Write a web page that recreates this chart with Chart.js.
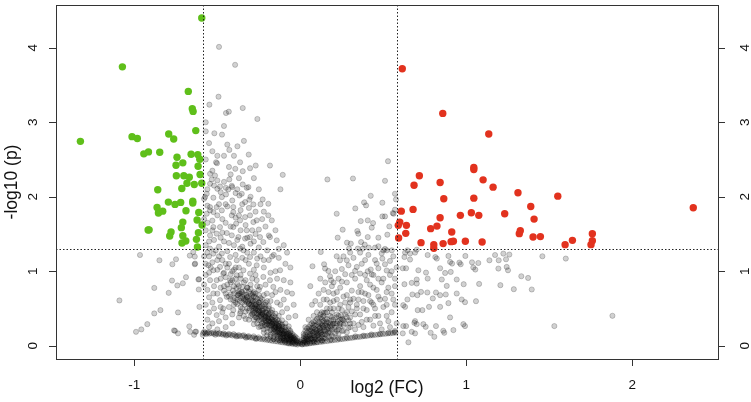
<!DOCTYPE html>
<html>
<head>
<meta charset="utf-8">
<script src="https://cdn.jsdelivr.net/npm/chart.js@4.4.1/dist/chart.umd.min.js"></script>
<style>
  html, body { margin: 0; padding: 0; background: #fff; }
  canvas { display: block; }
</style>
</head>
<body>
<canvas id="volcano" width="751" height="402"></canvas>
<script>
// axis ticks and cut-offs
const xTicks = [-1, 0, 1, 2];
const yTicks = [0, 1, 2, 3, 4];
const fcCut = 0.585;   // log2(1.5)
const pCut = 1.301;    // -log10(0.05)

// down-regulated (green)
const downPoints = [
  [-0.594, 4.40], [-1.072, 3.744], [-1.325, 2.744], [-0.675, 3.414], [-0.651, 3.182], [-0.646, 3.146],
  [-0.630, 2.888], [-1.014, 2.807], [-0.982, 2.781], [-0.793, 2.843], [-0.763, 2.776], [-0.943, 2.576],
  [-0.915, 2.602], [-0.847, 2.597], [-0.743, 2.530], [-0.658, 2.570], [-0.618, 2.566], [-0.606, 2.503],
  [-0.708, 2.455], [-0.749, 2.423], [-0.616, 2.410], [-0.747, 2.281], [-0.702, 2.281], [-0.669, 2.262],
  [-0.604, 2.298], [-0.683, 2.182], [-0.639, 2.165], [-0.594, 2.182], [-0.714, 2.111], [-0.859, 2.094],
  [-0.795, 1.928], [-0.755, 1.897], [-0.721, 1.924], [-0.648, 1.941], [-0.648, 1.915], [-0.863, 1.857],
  [-0.855, 1.781], [-0.829, 1.807], [-0.689, 1.812], [-0.612, 1.790], [-0.592, 1.620], [-0.622, 1.687],
  [-0.708, 1.660], [-0.717, 1.585], [-0.917, 1.553], [-0.911, 1.556], [-0.779, 1.526], [-0.787, 1.473],
  [-0.708, 1.478], [-0.614, 1.518], [-0.690, 1.406], [-0.713, 1.379], [-0.626, 1.428], [-0.620, 1.325]
];

// up-regulated (red)
const upPoints = [
  [0.614, 3.718], [0.858, 3.119], [1.135, 2.843], [1.045, 2.392], [1.045, 2.365], [0.717, 2.281],
  [0.685, 2.155], [0.842, 2.191], [1.101, 2.227], [1.161, 2.129], [0.864, 1.973], [1.045, 1.981],
  [1.311, 2.053], [1.551, 2.008], [2.367, 1.853], [1.388, 1.870], [1.408, 1.700], [1.231, 1.772],
  [1.075, 1.750], [1.030, 1.786], [0.964, 1.750], [0.842, 1.719], [0.608, 1.807], [0.679, 1.830],
  [0.599, 1.660], [0.639, 1.616], [0.590, 1.616], [0.635, 1.509], [0.592, 1.446], [0.785, 1.572],
  [0.823, 1.606], [0.912, 1.526], [0.727, 1.384], [0.804, 1.357], [0.804, 1.308], [0.860, 1.371],
  [0.908, 1.397], [0.922, 1.402], [0.994, 1.402], [1.095, 1.392], [1.319, 1.505], [1.325, 1.545],
  [1.402, 1.459], [1.446, 1.465], [1.595, 1.357], [1.639, 1.415], [1.759, 1.505], [1.759, 1.411],
  [1.751, 1.357]
];

// not significant (grey), read region by region
const greyFloor = [
  [-0.585, 0.172], [-0.572, 0.168], [-0.561, 0.175], [-0.548, 0.163], [-0.536, 0.168], [-0.521, 0.160],
  [-0.507, 0.166], [-0.494, 0.155], [-0.478, 0.158], [-0.466, 0.149], [-0.452, 0.153], [-0.437, 0.144],
  [-0.421, 0.147], [-0.409, 0.137], [-0.392, 0.140], [-0.378, 0.131], [-0.363, 0.128], [-0.349, 0.133],
  [-0.333, 0.121], [-0.318, 0.118], [-0.304, 0.112], [-0.289, 0.108], [-0.273, 0.103], [-0.261, 0.098],
  [-0.244, 0.093], [-0.229, 0.087], [-0.214, 0.083], [-0.198, 0.076], [-0.183, 0.072], [-0.169, 0.066],
  [-0.152, 0.061], [-0.138, 0.057], [-0.122, 0.050], [-0.108, 0.046], [-0.093, 0.040], [-0.079, 0.036],
  [-0.062, 0.031], [-0.048, 0.025], [-0.031, 0.020], [-0.017, 0.016],
  [0.012, 0.018], [0.027, 0.022], [0.041, 0.027], [0.056, 0.031], [0.072, 0.037], [0.086, 0.040],
  [0.101, 0.046], [0.118, 0.050], [0.133, 0.055], [0.147, 0.060], [0.163, 0.063], [0.178, 0.069],
  [0.192, 0.072], [0.208, 0.078], [0.224, 0.081], [0.239, 0.087], [0.253, 0.090], [0.268, 0.095],
  [0.284, 0.099], [0.299, 0.104], [0.314, 0.108], [0.328, 0.113], [0.344, 0.117], [0.359, 0.120],
  [0.374, 0.126], [0.390, 0.129], [0.405, 0.134], [0.421, 0.138], [0.436, 0.141], [0.451, 0.147],
  [0.467, 0.150], [0.482, 0.154], [0.497, 0.158], [0.513, 0.161], [0.528, 0.165], [0.543, 0.168],
  [0.558, 0.172], [0.574, 0.176]
];

const greyFloor2 = [
  [-0.579, 0.188], [-0.553, 0.181], [-0.524, 0.179], [-0.488, 0.170], [-0.463, 0.166], [-0.431, 0.158],
  [-0.402, 0.155], [-0.371, 0.144], [-0.341, 0.141], [-0.312, 0.130], [-0.281, 0.126], [-0.252, 0.113],
  [-0.221, 0.106], [-0.193, 0.093], [-0.161, 0.087], [-0.128, 0.073], [-0.097, 0.066], [-0.071, 0.050],
  [-0.566, 0.156], [-0.512, 0.148], [-0.447, 0.137], [-0.386, 0.124], [-0.327, 0.108], [-0.268, 0.092],
  [0.083, 0.057], [0.131, 0.072], [0.184, 0.083], [0.231, 0.100], [0.279, 0.110], [0.332, 0.127],
  [0.381, 0.136], [0.428, 0.152], [0.479, 0.160], [0.532, 0.177], [0.568, 0.183]
];

const greyLeftCore = [
  [-0.02, 0.05], [-0.03, 0.08], [-0.04, 0.04], [-0.05, 0.10], [-0.05, 0.06], [-0.06, 0.12], [-0.07, 0.08],
  [-0.07, 0.15], [-0.08, 0.11], [-0.09, 0.17], [-0.09, 0.07], [-0.10, 0.13], [-0.10, 0.20], [-0.11, 0.16],
  [-0.12, 0.22], [-0.12, 0.10], [-0.13, 0.18], [-0.13, 0.26], [-0.14, 0.14], [-0.14, 0.23], [-0.15, 0.30],
  [-0.15, 0.20], [-0.16, 0.26], [-0.16, 0.34], [-0.17, 0.22], [-0.17, 0.30], [-0.18, 0.37], [-0.18, 0.27],
  [-0.19, 0.33], [-0.19, 0.42], [-0.20, 0.29], [-0.20, 0.38], [-0.21, 0.45], [-0.21, 0.34], [-0.22, 0.40],
  [-0.22, 0.50], [-0.23, 0.36], [-0.23, 0.44], [-0.24, 0.52], [-0.24, 0.41], [-0.25, 0.47], [-0.25, 0.58],
  [-0.26, 0.43], [-0.26, 0.53], [-0.27, 0.60], [-0.27, 0.49], [-0.28, 0.56], [-0.28, 0.66], [-0.29, 0.52],
  [-0.30, 0.61], [-0.30, 0.70], [-0.31, 0.57], [-0.32, 0.65], [-0.33, 0.74], [-0.33, 0.60], [-0.34, 0.69],
  [-0.35, 0.79], [-0.36, 0.64], [-0.37, 0.73], [-0.38, 0.83], [-0.40, 0.70], [-0.41, 0.88], [-0.43, 0.77],
  [-0.45, 0.92], [-0.03, 0.03], [-0.04, 0.07], [-0.06, 0.05], [-0.08, 0.09], [-0.10, 0.10], [-0.11, 0.12],
  [-0.13, 0.15], [-0.15, 0.16], [-0.16, 0.19], [-0.18, 0.21], [-0.20, 0.24], [-0.21, 0.27], [-0.23, 0.30],
  [-0.25, 0.34], [-0.27, 0.38], [-0.29, 0.43], [-0.31, 0.47], [-0.06, 0.20], [-0.09, 0.25], [-0.11, 0.28],
  [-0.13, 0.33], [-0.15, 0.38], [-0.17, 0.44], [-0.19, 0.50], [-0.21, 0.55], [-0.23, 0.62], [-0.25, 0.68],
  [-0.04, 0.14], [-0.02, 0.10], [-0.01, 0.06], [0.00, 0.03]
];

const greyLeftBlack = [
  [-0.015, 0.04], [-0.025, 0.06], [-0.035, 0.09], [-0.045, 0.05], [-0.055, 0.11], [-0.065, 0.07],
  [-0.065, 0.14], [-0.075, 0.12], [-0.085, 0.15], [-0.085, 0.08], [-0.095, 0.19], [-0.105, 0.15],
  [-0.105, 0.11], [-0.115, 0.21], [-0.125, 0.17], [-0.125, 0.26], [-0.135, 0.20], [-0.135, 0.13],
  [-0.145, 0.25], [-0.145, 0.31], [-0.155, 0.22], [-0.155, 0.27], [-0.165, 0.32], [-0.165, 0.17],
  [-0.175, 0.27], [-0.175, 0.36], [-0.185, 0.31], [-0.185, 0.24], [-0.195, 0.36], [-0.195, 0.41],
  [-0.205, 0.31], [-0.205, 0.44], [-0.215, 0.37], [-0.215, 0.28], [-0.225, 0.43], [-0.225, 0.47],
  [-0.235, 0.39], [-0.235, 0.33], [-0.245, 0.46], [-0.245, 0.55], [-0.255, 0.42], [-0.255, 0.50],
  [-0.265, 0.56], [-0.265, 0.38], [-0.275, 0.52], [-0.275, 0.45], [-0.285, 0.60], [-0.285, 0.47],
  [-0.295, 0.55], [-0.295, 0.63], [-0.305, 0.50], [-0.315, 0.60], [-0.325, 0.68], [-0.335, 0.55],
  [-0.345, 0.64], [-0.355, 0.72], [-0.365, 0.60], [-0.375, 0.68], [-0.385, 0.77], [-0.395, 0.64],
  [-0.405, 0.74], [-0.420, 0.69], [-0.440, 0.82], [-0.460, 0.74],
  [-0.02, 0.07], [-0.04, 0.11], [-0.05, 0.08], [-0.07, 0.10], [-0.08, 0.13], [-0.10, 0.16], [-0.12, 0.19],
  [-0.13, 0.23], [-0.15, 0.25], [-0.17, 0.29], [-0.19, 0.34], [-0.21, 0.39], [-0.23, 0.42], [-0.25, 0.45],
  [-0.27, 0.50], [-0.29, 0.53], [-0.31, 0.56], [-0.33, 0.62], [-0.35, 0.66], [-0.37, 0.70]
];

const greyLeftBlob = [
  [-0.06, 0.18], [-0.07, 0.26], [-0.09, 0.30], [-0.10, 0.08], [-0.11, 0.34], [-0.12, 0.12], [-0.13, 0.40],
  [-0.14, 0.18], [-0.15, 0.43], [-0.16, 0.09], [-0.17, 0.48], [-0.18, 0.12], [-0.19, 0.53], [-0.20, 0.14],
  [-0.21, 0.58], [-0.22, 0.18], [-0.23, 0.26], [-0.24, 0.64], [-0.25, 0.25], [-0.26, 0.37], [-0.27, 0.70],
  [-0.28, 0.29], [-0.29, 0.42], [-0.30, 0.76], [-0.31, 0.35], [-0.32, 0.50], [-0.34, 0.40], [-0.35, 0.58],
  [-0.36, 0.46], [-0.38, 0.62], [-0.40, 0.55], [-0.43, 0.66], [-0.16, 0.23], [-0.19, 0.28], [-0.22, 0.32],
  [-0.25, 0.39], [-0.28, 0.44], [-0.13, 0.30], [-0.11, 0.26], [-0.09, 0.21], [-0.07, 0.17], [-0.05, 0.13]
];

const greyLeftDense = [
  [-0.03, 0.12], [-0.05, 0.16], [-0.06, 0.09], [-0.07, 0.22], [-0.08, 0.16], [-0.09, 0.12], [-0.10, 0.25],
  [-0.11, 0.20], [-0.12, 0.15], [-0.12, 0.30], [-0.13, 0.22], [-0.14, 0.28], [-0.14, 0.35], [-0.15, 0.24],
  [-0.16, 0.30], [-0.16, 0.40], [-0.17, 0.35], [-0.18, 0.32], [-0.18, 0.45], [-0.19, 0.38], [-0.20, 0.33],
  [-0.20, 0.48], [-0.21, 0.40], [-0.22, 0.36], [-0.22, 0.55], [-0.23, 0.48], [-0.24, 0.44], [-0.24, 0.60],
  [-0.25, 0.52], [-0.26, 0.48], [-0.26, 0.63], [-0.27, 0.55], [-0.28, 0.50], [-0.28, 0.72], [-0.29, 0.60],
  [-0.30, 0.55], [-0.31, 0.66], [-0.32, 0.58], [-0.32, 0.78], [-0.34, 0.62], [-0.34, 0.85], [-0.35, 0.72],
  [-0.36, 0.95], [-0.37, 0.80], [-0.38, 0.68], [-0.39, 0.90], [-0.40, 1.02], [-0.42, 0.85], [-0.42, 0.96],
  [-0.44, 1.05], [-0.46, 0.98], [-0.47, 1.15], [-0.48, 0.90], [-0.50, 1.02], [-0.51, 1.28], [-0.53, 1.12],
  [-0.55, 0.98], [-0.56, 1.25], [-0.57, 1.10],
  [-0.04, 0.10], [-0.06, 0.14], [-0.08, 0.19], [-0.10, 0.17], [-0.11, 0.23], [-0.13, 0.27], [-0.15, 0.33],
  [-0.17, 0.38], [-0.19, 0.43], [-0.21, 0.50], [-0.23, 0.53], [-0.25, 0.58], [-0.27, 0.65], [-0.29, 0.68],
  [-0.31, 0.73], [-0.07, 0.03], [-0.09, 0.05], [-0.12, 0.07], [-0.14, 0.09], [-0.05, 0.04], [-0.11, 0.08],
  [-0.16, 0.12], [-0.18, 0.15], [-0.20, 0.18], [-0.22, 0.22], [-0.24, 0.26], [-0.26, 0.30], [-0.28, 0.35],
  [-0.30, 0.40], [-0.33, 0.46], [-0.36, 0.52], [-0.39, 0.58], [-0.42, 0.62], [-0.45, 0.70], [-0.48, 0.78],
  [-0.52, 0.80], [-0.55, 0.65], [-0.58, 0.82], [-0.52, 0.50], [-0.56, 0.35], [-0.47, 0.45], [-0.41, 0.42],
  [-0.37, 0.38], [-0.33, 0.36], [-0.45, 0.25], [-0.50, 0.22], [-0.41, 0.30], [-0.55, 0.25],
  [-0.57, 1.35], [-0.52, 1.42], [-0.47, 1.52], [-0.43, 1.38], [-0.38, 1.42], [-0.35, 1.33], [-0.32, 1.25],
  [-0.28, 1.40], [-0.25, 1.32], [-0.20, 1.28], [-0.19, 1.48], [-0.23, 1.70], [-0.29, 1.55], [-0.33, 1.62],
  [-0.39, 1.72], [-0.45, 1.65], [-0.50, 1.75], [-0.56, 1.88], [-0.58, 1.70], [-0.53, 1.68], [-0.45, 1.90],
  [-0.36, 1.82], [-0.31, 1.85], [-0.24, 1.90], [-0.17, 1.20], [-0.13, 1.30], [-0.08, 1.25], [-0.06, 1.05],
  [-0.22, 1.15], [-0.35, 1.18], [-0.43, 1.10], [-0.49, 1.20], [-0.54, 1.05], [-0.58, 1.20], [-0.39, 1.05]
];

const greyLeftMid = [
  [-0.524, 0.701], [-0.484, 0.612], [-0.443, 0.656], [-0.404, 0.612], [-0.363, 0.701], [-0.323, 0.656],
  [-0.404, 0.478], [-0.363, 0.434], [-0.464, 0.500], [-0.504, 0.411], [-0.524, 1.013], [-0.484, 1.058],
  [-0.554, 1.080], [-0.544, 0.880], [-0.504, 0.880], [-0.464, 0.969], [-0.423, 0.880], [-0.383, 0.946],
  [-0.343, 1.013], [-0.303, 0.969], [-0.263, 0.880], [-0.223, 0.924], [-0.183, 0.880], [-0.243, 0.790],
  [-0.283, 0.701], [-0.202, 0.701], [-0.163, 0.790], [-0.122, 1.013], [-0.263, 1.080], [-0.303, 1.191],
  [-0.383, 1.147], [-0.423, 1.191], [-0.473, 1.237], [-0.524, 1.237], [-0.363, 1.304], [-0.343, 1.281],
  [-0.56, 0.75], [-0.57, 0.55], [-0.55, 0.45], [-0.53, 0.30], [-0.49, 0.33], [-0.45, 0.38], [-0.43, 0.52],
  [-0.38, 0.56], [-0.35, 0.50], [-0.30, 0.82], [-0.27, 0.95], [-0.22, 1.05], [-0.19, 1.15], [-0.14, 0.90],
  [-0.12, 0.75], [-0.10, 0.62], [-0.08, 0.50], [-0.07, 0.38], [-0.06, 0.85], [-0.09, 1.10], [-0.16, 1.22],
  [-0.20, 0.60], [-0.17, 0.68], [-0.14, 0.58], [-0.11, 0.45], [-0.24, 1.20], [-0.28, 1.02], [-0.33, 0.88],
  [-0.37, 1.05], [-0.41, 1.00], [-0.45, 1.10], [-0.50, 1.15], [-0.55, 1.20], [-0.57, 0.95], [-0.46, 0.80],
  [-0.50, 0.70], [-0.40, 0.80], [-0.33, 1.15], [-0.28, 1.25], [-0.25, 0.75], [-0.21, 0.82], [-0.15, 1.00],
  [-0.05, 0.70], [-0.04, 0.55], [-0.03, 0.40], [-0.53, 0.58], [-0.48, 0.52], [-0.44, 1.27], [-0.39, 1.22],
  [-0.31, 1.10], [-0.26, 1.17], [-0.18, 0.98], [-0.13, 1.18], [-0.10, 0.88], [-0.08, 0.72], [-0.12, 0.55],
  [-0.15, 0.72], [-0.18, 0.60], [-0.22, 0.68], [-0.26, 0.80], [-0.29, 0.90], [-0.32, 0.78], [-0.36, 0.90]
];

const greyLeftUpper = [
  [-0.490, 4.012], [-0.393, 3.771], [-0.493, 3.343], [-0.548, 3.236], [-0.448, 3.124], [-0.431, 3.142],
  [-0.347, 3.191], [-0.259, 3.044], [-0.570, 2.878], [-0.518, 2.852], [-0.472, 2.834], [-0.379, 2.677],
  [-0.428, 2.629], [-0.530, 2.611], [-0.311, 2.566], [-0.508, 2.463], [-0.502, 2.450], [-0.363, 2.463],
  [-0.269, 2.419], [-0.303, 2.383], [-0.347, 2.343], [-0.392, 2.375], [-0.183, 2.419], [-0.106, 2.294],
  [-0.544, 2.308], [-0.534, 2.232], [-0.544, 2.174], [-0.514, 2.285], [-0.500, 2.218], [-0.484, 2.138],
  [-0.428, 2.232], [-0.413, 2.147], [-0.411, 2.129], [-0.434, 2.098], [-0.449, 2.120], [-0.347, 2.165],
  [-0.323, 2.120], [-0.313, 2.129], [-0.353, 2.040], [-0.367, 2.017], [-0.524, 1.987], [-0.473, 1.995],
  [-0.448, 2.031], [-0.480, 2.062], [-0.500, 2.107], [-0.564, 2.040], [-0.574, 1.995], [-0.580, 1.973],
  [-0.227, 1.964], [-0.193, 1.906], [-0.333, 1.928], [-0.307, 1.960], [-0.283, 1.897], [-0.544, 1.861],
  [-0.544, 1.817], [-0.564, 1.772], [-0.524, 1.794], [-0.504, 1.861], [-0.404, 1.861], [-0.404, 1.794],
  [-0.413, 1.750], [-0.440, 1.870], [-0.473, 1.817], [-0.363, 1.683], [-0.387, 1.639], [-0.404, 1.593],
  [-0.333, 1.727], [-0.303, 1.750], [-0.283, 1.660], [-0.263, 1.683], [-0.193, 1.750], [-0.172, 1.683],
  [-0.183, 1.459], [-0.142, 1.415], [-0.243, 1.459], [-0.223, 1.392], [-0.323, 1.549], [-0.333, 1.438],
  [-0.303, 1.459], [-0.373, 1.459], [-0.413, 1.482], [-0.443, 1.513], [-0.524, 1.593], [-0.544, 1.482],
  [-0.504, 1.505], [-0.484, 1.593], [-0.544, 1.304], [-0.12, 2.10], [-0.15, 1.55], [-0.10, 1.35],
  [-0.46, 1.40], [-0.56, 1.65], [-0.55, 1.40], [-0.47, 1.70], [-0.36, 1.55], [-0.25, 1.56], [-0.21, 1.60],
  [-0.40, 1.35], [-0.49, 1.33], [-0.57, 1.55], [-0.43, 2.40], [-0.37, 2.25], [-0.46, 2.55], [-0.55, 2.72],
  [-0.41, 1.95], [-0.27, 1.80], [-0.39, 2.05], [-0.30, 1.37],
  [-0.56, 2.10], [-0.52, 2.15], [-0.49, 1.90], [-0.46, 2.20], [-0.42, 2.30], [-0.38, 2.10], [-0.35, 1.90],
  [-0.30, 2.00], [-0.28, 2.25], [-0.25, 2.10], [-0.53, 2.35], [-0.57, 2.50], [-0.50, 2.55], [-0.44, 2.70],
  [-0.40, 2.55], [-0.34, 2.75], [-0.57, 3.00], [-0.46, 2.95], [-0.53, 1.55], [-0.48, 1.45], [-0.42, 1.60],
  [-0.37, 1.75], [-0.32, 1.45], [-0.27, 1.50], [-0.22, 1.80]
];

const greyRightCore = [
  [0.02, 0.04], [0.03, 0.08], [0.04, 0.03], [0.05, 0.12], [0.05, 0.06], [0.06, 0.16], [0.07, 0.10],
  [0.07, 0.20], [0.08, 0.05], [0.08, 0.14], [0.09, 0.22], [0.10, 0.09], [0.10, 0.17], [0.11, 0.26],
  [0.11, 0.12], [0.12, 0.20], [0.12, 0.30], [0.13, 0.15], [0.13, 0.24], [0.14, 0.33], [0.14, 0.10],
  [0.15, 0.19], [0.15, 0.28], [0.16, 0.36], [0.16, 0.14], [0.17, 0.23], [0.17, 0.31], [0.18, 0.40],
  [0.18, 0.18], [0.19, 0.27], [0.20, 0.35], [0.20, 0.12], [0.21, 0.22], [0.22, 0.30], [0.22, 0.42],
  [0.23, 0.16], [0.24, 0.26], [0.25, 0.36], [0.26, 0.20], [0.27, 0.30], [0.28, 0.45], [0.29, 0.24],
  [0.30, 0.38], [0.01, 0.02], [0.02, 0.07], [0.03, 0.12], [0.04, 0.09], [0.06, 0.04], [0.06, 0.13],
  [0.09, 0.12], [0.10, 0.05], [0.11, 0.19], [0.13, 0.07], [0.14, 0.16], [0.16, 0.22], [0.19, 0.14],
  [0.00, 0.05], [-0.01, 0.03], [0.04, 0.18], [0.08, 0.28], [0.12, 0.38], [0.15, 0.44], [0.20, 0.50],
  [0.24, 0.55]
];

const greyRightBlack = [
  [0.015, 0.04], [0.025, 0.06], [0.035, 0.10], [0.045, 0.07], [0.055, 0.14], [0.065, 0.09], [0.075, 0.17],
  [0.085, 0.11], [0.095, 0.20], [0.105, 0.14], [0.115, 0.23], [0.125, 0.18], [0.135, 0.27], [0.145, 0.21],
  [0.155, 0.30], [0.165, 0.25], [0.175, 0.20], [0.185, 0.34], [0.195, 0.29], [0.205, 0.24], [0.215, 0.38],
  [0.225, 0.33], [0.235, 0.28], [0.245, 0.41], [0.255, 0.35], [0.07, 0.24], [0.09, 0.27], [0.11, 0.31],
  [0.13, 0.36], [0.05, 0.20], [0.03, 0.15], [0.02, 0.13], [0.04, 0.23], [0.06, 0.28], [0.08, 0.32],
  [0.10, 0.36], [0.12, 0.42], [0.14, 0.40], [0.16, 0.45], [0.18, 0.50]
];

const greyRightBlob = [
  [0.01, 0.08], [0.02, 0.16], [0.03, 0.20], [0.04, 0.05], [0.05, 0.25], [0.06, 0.10], [0.07, 0.30],
  [0.08, 0.19], [0.09, 0.33], [0.10, 0.21], [0.11, 0.38], [0.12, 0.10], [0.13, 0.28], [0.14, 0.44],
  [0.15, 0.15], [0.16, 0.32], [0.17, 0.12], [0.18, 0.26], [0.20, 0.30], [0.22, 0.20], [0.24, 0.30],
  [0.26, 0.34], [0.28, 0.38], [0.30, 0.30], [0.06, 0.22], [0.08, 0.08], [0.10, 0.13], [0.12, 0.16],
  [0.14, 0.25]
];

const greyRightDense = [
  [0.02, 0.10], [0.03, 0.05], [0.04, 0.13], [0.05, 0.09], [0.06, 0.20], [0.07, 0.06], [0.07, 0.14],
  [0.08, 0.24], [0.09, 0.09], [0.09, 0.18], [0.10, 0.28], [0.11, 0.08], [0.11, 0.16], [0.12, 0.24],
  [0.13, 0.12], [0.13, 0.32], [0.14, 0.20], [0.15, 0.10], [0.15, 0.36], [0.16, 0.27], [0.17, 0.17],
  [0.18, 0.30], [0.19, 0.22], [0.19, 0.38], [0.21, 0.16], [0.21, 0.30], [0.23, 0.22], [0.24, 0.35],
  [0.26, 0.28], [0.27, 0.42], [0.29, 0.34], [0.31, 0.46], [0.32, 0.30], [0.34, 0.50], [0.36, 0.42],
  [0.38, 0.60], [0.40, 0.48], [0.41, 0.68], [0.43, 0.58], [0.46, 0.75], [0.48, 0.62], [0.50, 0.90],
  [0.53, 0.78], [0.55, 1.00], [0.52, 0.55], [0.45, 0.50], [0.40, 0.35], [0.35, 0.28], [0.30, 0.25],
  [0.25, 0.20], [0.28, 0.18], [0.33, 0.22], [0.38, 0.25], [0.44, 0.27], [0.49, 0.22], [0.54, 0.25],
  [0.57, 0.20], [0.52, 0.40], [0.47, 0.40], [0.27, 0.58], [0.23, 0.50], [0.32, 0.63], [0.37, 0.72],
  [0.42, 0.82], [0.45, 1.15], [0.36, 1.25], [0.29, 1.08], [0.39, 1.15], [0.51, 1.30], [0.57, 0.90],
  [0.20, 0.85], [0.14, 0.75], [0.12, 0.90], [0.07, 0.55], [0.05, 0.35], [0.03, 0.25]
];

const greyRightMid = [
  [0.073, 1.067], [0.143, 1.094], [0.149, 1.036], [0.169, 1.004], [0.179, 0.933], [0.185, 0.880],
  [0.424, 1.023], [0.406, 1.000], [0.430, 0.956], [0.494, 1.170], [0.540, 1.138], [0.510, 1.094],
  [0.460, 1.103], [0.470, 1.040], [0.340, 1.058], [0.330, 1.004], [0.360, 0.969], [0.219, 1.201],
  [0.239, 1.147], [0.280, 1.147], [0.123, 1.258],
  [0.10, 0.45], [0.12, 0.55], [0.14, 0.62], [0.16, 0.50], [0.18, 0.58], [0.20, 0.70], [0.22, 0.62],
  [0.24, 0.78], [0.25, 0.48], [0.26, 0.66], [0.28, 0.85], [0.30, 0.58], [0.31, 0.74], [0.33, 0.90],
  [0.35, 0.62], [0.36, 0.80], [0.38, 0.50], [0.39, 0.70], [0.40, 0.88], [0.42, 0.60], [0.44, 0.78],
  [0.45, 0.40], [0.47, 0.66], [0.49, 0.85], [0.50, 0.52], [0.52, 0.72], [0.54, 0.95], [0.55, 0.45],
  [0.56, 0.62], [0.57, 0.80], [0.58, 1.05], [0.58, 0.30], [0.53, 0.33], [0.48, 0.30], [0.42, 0.35],
  [0.37, 0.32], [0.33, 0.42], [0.29, 0.52], [0.27, 0.96], [0.23, 0.90], [0.21, 1.00], [0.19, 0.80],
  [0.17, 0.72], [0.15, 0.85], [0.11, 0.70], [0.09, 0.60], [0.08, 0.40], [0.13, 0.45], [0.06, 0.80],
  [0.32, 1.18], [0.37, 1.10], [0.41, 1.22], [0.44, 0.95], [0.49, 1.24], [0.52, 1.01], [0.56, 1.20],
  [0.25, 1.03], [0.30, 1.25], [0.35, 0.72], [0.28, 0.68], [0.23, 0.40], [0.19, 0.45], [0.47, 0.90],
  [0.51, 0.63], [0.44, 0.55], [0.39, 0.95], [0.34, 0.55], [0.31, 0.95], [0.26, 1.20], [0.20, 0.60],
  [0.22, 0.72], [0.25, 0.86], [0.30, 0.62], [0.16, 0.62], [0.57, 0.55], [0.55, 0.70]
];

const greyRightUpper = [
  [0.528, 2.477], [0.163, 2.232], [0.317, 2.245], [0.510, 2.214], [0.424, 2.013], [0.384, 1.924],
  [0.396, 1.884], [0.494, 1.920], [0.331, 1.843], [0.219, 1.772], [0.570, 1.826], [0.557, 1.781],
  [0.494, 1.736], [0.510, 1.736], [0.364, 1.673], [0.406, 1.683], [0.438, 1.647], [0.255, 1.558],
  [0.343, 1.540], [0.349, 1.505], [0.430, 1.585], [0.536, 1.602], [0.524, 1.491], [0.470, 1.451],
  [0.406, 1.459], [0.225, 1.451], [0.281, 1.384], [0.304, 1.371], [0.366, 1.392], [0.388, 1.357],
  [0.450, 1.317], [0.470, 1.335], [0.293, 1.304], [0.346, 1.304], [0.376, 1.304], [0.412, 1.317],
  [0.500, 1.281], [0.520, 1.281], [0.551, 1.281], [0.570, 2.040], [0.576, 1.964], [0.562, 1.772]
];

const greyRightOut = [
  [0.631, 1.250], [0.645, 1.281], [0.661, 1.237], [0.691, 1.250], [0.701, 1.290], [0.627, 1.191],
  [0.661, 1.157], [0.767, 1.218], [0.813, 1.191], [0.822, 1.170], [0.892, 1.205], [0.994, 1.205],
  [1.034, 1.120], [1.072, 1.111], [1.139, 1.147], [1.173, 1.218], [1.195, 1.147], [1.223, 1.237],
  [1.259, 1.224], [1.239, 1.161], [1.458, 1.201], [1.599, 1.170], [0.902, 1.125], [0.914, 1.103],
  [0.958, 1.116], [0.966, 1.094], [0.842, 1.040], [0.872, 0.977], [0.906, 0.991], [1.042, 1.050],
  [1.054, 1.023], [1.193, 1.036], [1.243, 1.058], [1.251, 1.013], [0.617, 1.040], [0.637, 1.040],
  [0.711, 1.013], [0.757, 0.982], [0.852, 0.889], [0.767, 0.902], [0.701, 0.889], [0.701, 0.835],
  [0.671, 0.844], [0.627, 0.826], [0.942, 0.889], [1.077, 0.830], [0.984, 0.826], [0.882, 0.803],
  [1.205, 0.813], [1.331, 0.933], [1.372, 0.910], [1.286, 0.759], [1.394, 0.755], [0.727, 0.723],
  [0.765, 0.715], [0.817, 0.715], [0.842, 0.679], [0.876, 0.688], [0.942, 0.701], [0.675, 0.688],
  [0.705, 0.679], [0.645, 0.621], [0.798, 0.635], [0.972, 0.621], [0.992, 0.585], [1.058, 0.598],
  [0.892, 0.572], [0.620, 0.545], [0.631, 0.522], [0.775, 0.522], [0.842, 0.522], [0.707, 0.478],
  [0.735, 0.478], [0.902, 0.380], [0.691, 0.331], [0.687, 0.308], [0.701, 0.290], [0.691, 0.166],
  [0.741, 0.290], [0.755, 0.254], [0.620, 0.264], [0.637, 0.264], [0.817, 0.264], [0.982, 0.290],
  [0.992, 0.264], [0.861, 0.201], [0.867, 0.174], [0.922, 0.210], [0.671, 0.187], [0.785, 0.174],
  [0.807, 0.120], [0.651, 0.046], [1.530, 0.264], [0.617, 0.166], [1.880, 0.402]
];

const greyLeftOut = [
  [-0.966, 1.218], [-0.849, 1.147], [-0.771, 1.094], [-0.749, 1.161], [-0.666, 1.210], [-0.645, 1.258],
  [-0.636, 1.197], [-0.636, 1.094], [-0.689, 0.920], [-0.708, 0.839], [-0.741, 0.809], [-0.773, 0.875],
  [-0.614, 0.889], [-0.880, 0.776], [-0.793, 0.710], [-1.090, 0.608], [-0.843, 0.478], [-0.880, 0.434],
  [-0.737, 0.447], [-0.608, 0.522], [-0.922, 0.290], [-0.958, 0.219], [-0.990, 0.187], [-0.761, 0.206],
  [-0.755, 0.200], [-0.737, 0.166], [-0.669, 0.260], [-0.664, 0.187], [-0.633, 0.187], [-0.628, 0.190],
  [-0.640, 0.147], [-0.588, 0.147], [-0.610, 0.893], [-0.612, 0.755], [-0.634, 1.103]
];

const greyPoints = [].concat(greyFloor, greyFloor2, greyLeftCore, greyLeftBlack, greyLeftBlob,
  greyLeftDense, greyLeftMid, greyLeftUpper, greyRightCore, greyRightBlack, greyRightBlob,
  greyRightDense, greyRightMid, greyRightUpper, greyRightOut, greyLeftOut);

const toXY = pts => pts.map(p => ({ x: p[0], y: p[1] }));

const FONT = '"Liberation Sans", Arial, sans-serif';

// R-style frame, ticks, labels and cut-off lines
const rAxes = {
  id: 'rAxes',
  afterDatasetsDraw(chart) {
    const { ctx, chartArea: a, scales: { x, y } } = chart;
    ctx.save();

    // dotted threshold lines
    ctx.strokeStyle = '#222';
    ctx.lineWidth = 1;
    ctx.setLineDash([1.5, 2]);
    ctx.beginPath();
    [-fcCut, fcCut].forEach(v => {
      const px = Math.round(x.getPixelForValue(v)) + 0.5;
      ctx.moveTo(px, a.top); ctx.lineTo(px, a.bottom);
    });
    const py = Math.round(y.getPixelForValue(pCut)) + 0.5;
    ctx.moveTo(a.left, py); ctx.lineTo(a.right, py);
    ctx.stroke();
    ctx.setLineDash([]);

    // box
    ctx.strokeStyle = '#333';
    ctx.strokeRect(Math.round(a.left) + 0.5, Math.round(a.top) + 0.5,
      Math.round(a.right - a.left), Math.round(a.bottom - a.top));

    // ticks
    ctx.beginPath();
    xTicks.forEach(v => {
      const px = Math.round(x.getPixelForValue(v)) + 0.5;
      ctx.moveTo(px, a.bottom); ctx.lineTo(px, a.bottom + 7);
    });
    yTicks.forEach(v => {
      const p = Math.round(y.getPixelForValue(v)) + 0.5;
      ctx.moveTo(a.left, p); ctx.lineTo(a.left - 7, p);
      ctx.moveTo(a.right, p); ctx.lineTo(a.right + 7, p);
    });
    ctx.stroke();

    // tick labels
    ctx.fillStyle = '#111';
    ctx.font = '13.5px ' + FONT;
    ctx.textAlign = 'center';
    ctx.textBaseline = 'middle';
    xTicks.forEach(v => ctx.fillText(String(v), x.getPixelForValue(v), a.bottom + 26));
    yTicks.forEach(v => {
      const p = y.getPixelForValue(v);
      [a.left - 23, a.right + 27].forEach(cx => {
        ctx.save();
        ctx.translate(cx, p);
        ctx.rotate(-Math.PI / 2);
        ctx.fillText(String(v), 0, 0);
        ctx.restore();
      });
    });

    // axis titles
    ctx.font = '17.5px ' + FONT;
    ctx.fillText('log2 (FC)', (a.left + a.right) / 2, a.bottom + 29);
    ctx.save();
    ctx.translate(12, (a.top + a.bottom) / 2);
    ctx.rotate(-Math.PI / 2);
    ctx.fillText('-log10 (p)', 0, 0);
    ctx.restore();

    ctx.restore();
  }
};

new Chart(document.getElementById('volcano'), {
  type: 'scatter',
  data: {
    datasets: [
      {
        label: 'up',
        data: toXY(upPoints),
        backgroundColor: '#e2321e',
        borderWidth: 0,
        pointRadius: 3.7
      },
      {
        label: 'down',
        data: toXY(downPoints),
        backgroundColor: '#5fbf1a',
        borderWidth: 0,
        pointRadius: 3.7
      },
      {
        label: 'ns',
        data: toXY(greyPoints),
        backgroundColor: 'rgba(0,0,0,0.18)',
        borderColor: 'rgba(0,0,0,0.2)',
        borderWidth: 1,
        pointRadius: 2.6
      }
    ]
  },
  options: {
    responsive: false,
    animation: false,
    events: [],
    layout: { padding: { top: 4, left: 0, right: 0, bottom: 0 } },
    plugins: { legend: { display: false }, tooltip: { enabled: false } },
    scales: {
      x: {
        type: 'linear',
        min: -1.472,
        max: 2.516,
        grid: { display: false },
        border: { display: false },
        ticks: { display: false },
        afterFit: s => { s.height = 43; }
      },
      y: {
        type: 'linear',
        min: -0.178,
        max: 4.574,
        grid: { display: false },
        border: { display: false },
        ticks: { display: false },
        afterFit: s => { s.width = 56; }
      },
      yRight: {
        type: 'linear',
        position: 'right',
        min: -0.178,
        max: 4.574,
        grid: { display: false },
        border: { display: false },
        ticks: { display: false },
        afterFit: s => { s.width = 33; }
      }
    }
  },
  plugins: [rAxes]
});
</script>
</body>
</html>
